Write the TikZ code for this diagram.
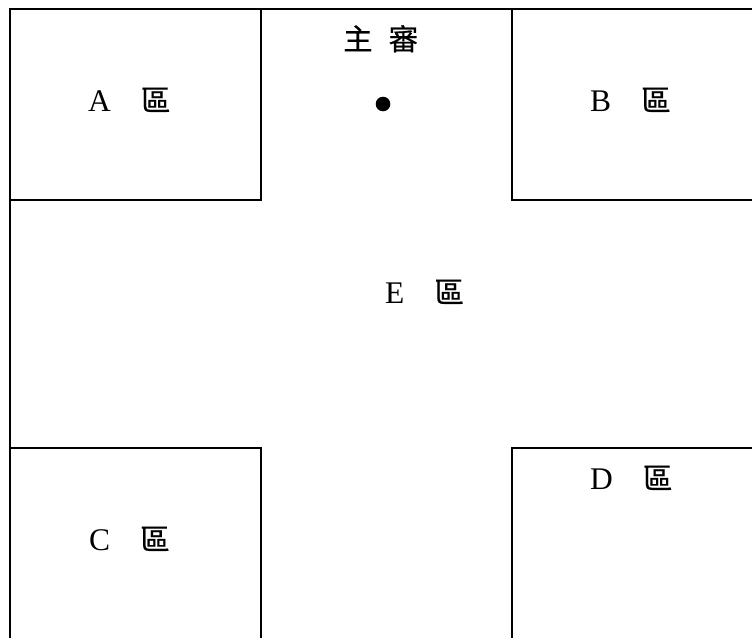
\documentclass[tikz,border=0pt]{standalone}
\usepackage{fontspec}
\setmainfont{Liberation Serif}
\newfontfamily\cjk[FakeBold=0.5]{Noto Sans CJK TC}
\newcommand{\qu}{{\cjk\fontsize{29.5}{32}\selectfont 區}}
\begin{document}
\begin{tikzpicture}[x=1pt,y=-1pt,
  wall/.style={line width=1.4pt,line cap=rect},
  lbl/.style={anchor=base west,inner sep=0pt,font=\fontsize{31.5}{34}\selectfont}]
\useasboundingbox (0,0) rectangle (752,637);
% outer top and left walls
\draw[wall] (10,9) -- (752,9);
\draw[wall] (10,9) -- (10,637);
% A
\draw[wall] (261,9) -- (261,200) -- (10,200);
% B
\draw[wall] (512,9) -- (512,200) -- (752,200);
% C
\draw[wall] (10,448) -- (261,448) -- (261,637);
% D
\draw[wall] (752,448) -- (512,448) -- (512,637);
% labels
\node[lbl] (labA) at (88,111) {A\hspace{30pt}\qu};
\node[lbl] (labB) at (590,111) {B\hspace{30pt}\qu};
\node[lbl] (labC) at (89,550) {C\hspace{30pt}\qu};
\node[lbl] (labD) at (590,489) {D\hspace{30pt}\qu};
\node[lbl] (labE) at (385,303) {E\hspace{30pt}\qu};
\node[lbl] (ref) at (343,50) {\cjk\fontsize{29.5}{32}\selectfont 主\hspace{16pt}審};
\fill (383,104) circle (7.3);
\end{tikzpicture}
\end{document}
